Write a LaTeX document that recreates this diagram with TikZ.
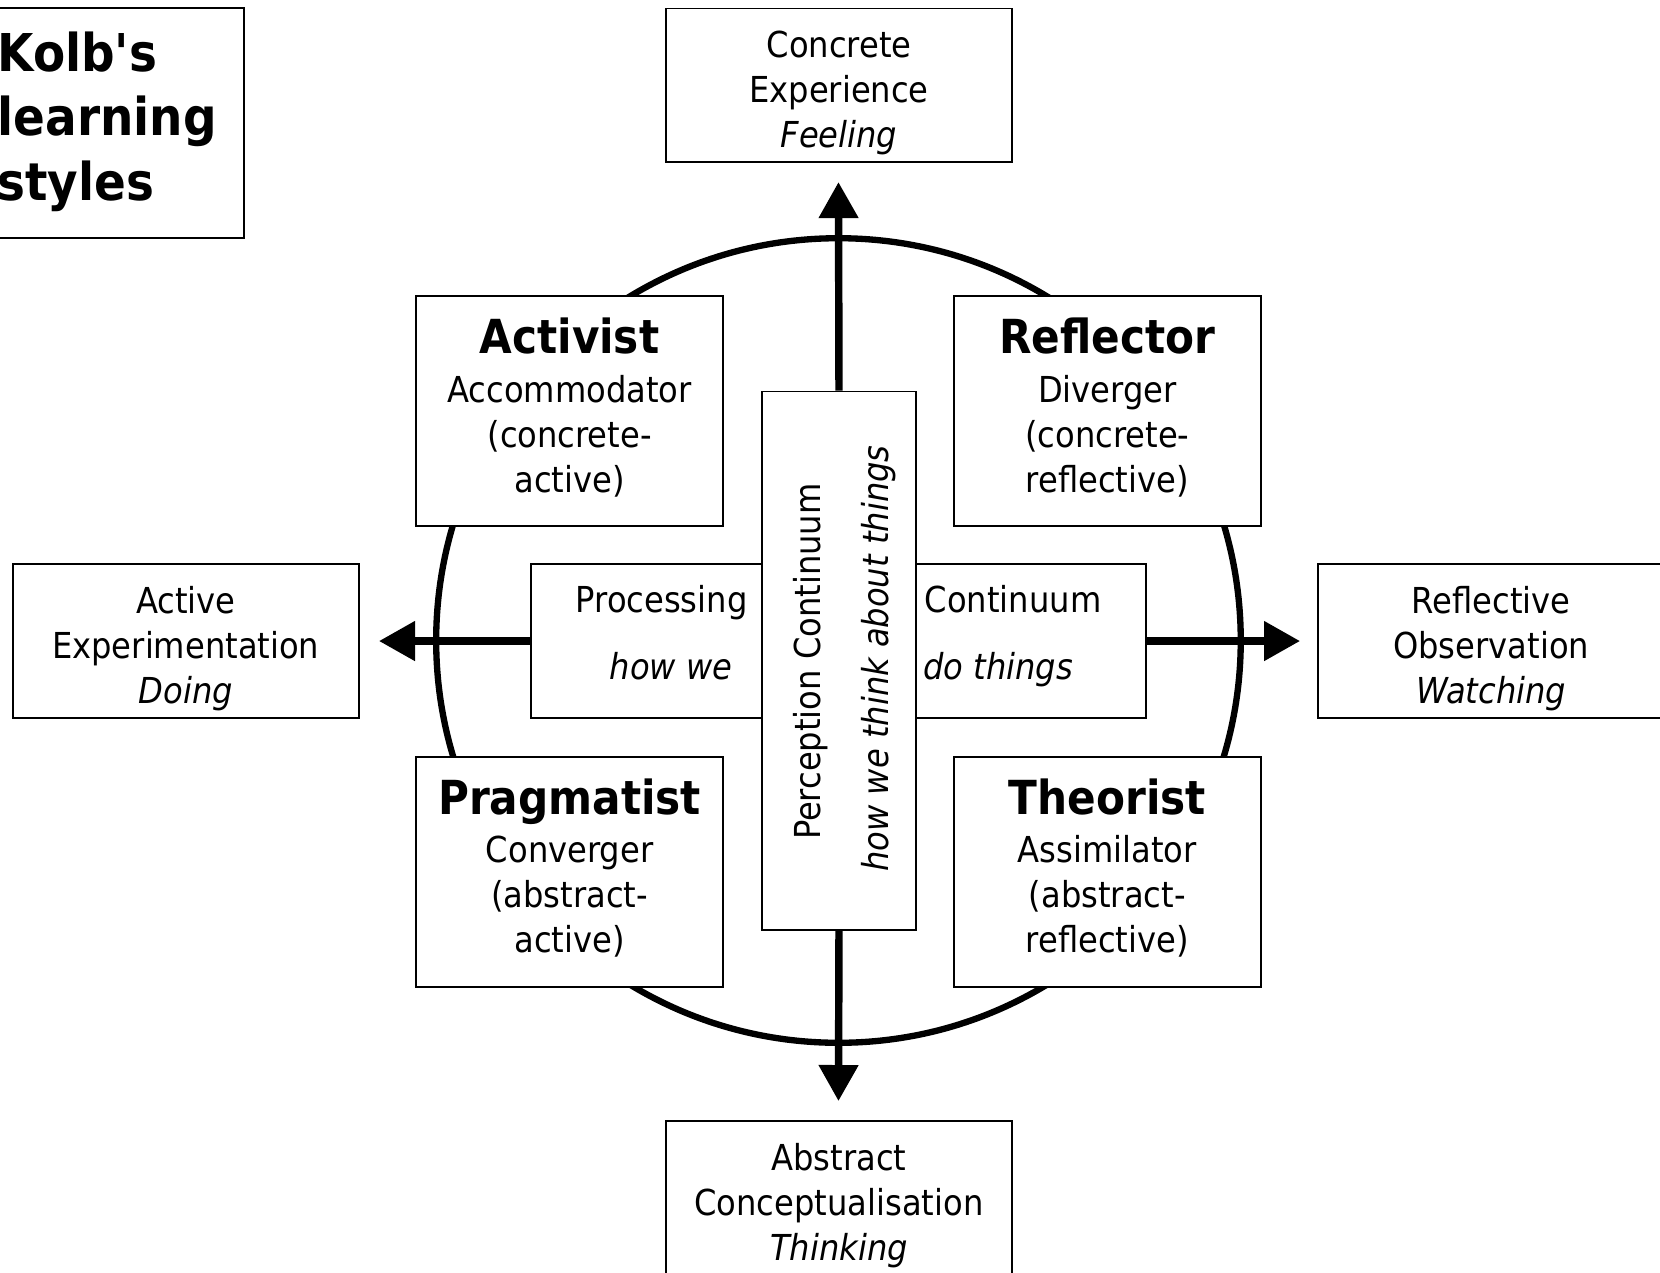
\documentclass[tikz,border=0pt]{standalone}
\usepackage{fontspec}
\setmainfont{DejaVu Sans Condensed}
\usetikzlibrary{arrows.meta}
\newcommand\kolbtxt{\fontsize{9.6}{12.1}\selectfont}
\newcommand\kolbhead{\fontsize{12.6}{14}\selectfont\bfseries}
\newcommand\kolbtitle{\fontsize{14}{17.4}\selectfont\bfseries}
\newcommand\kolbup{\rule{0pt}{11.3pt}}
\newcommand\kolbdown{\rule[-3.3pt]{0pt}{0pt}}
\begin{document}
\begin{tikzpicture}[x=0.01cm,y=-0.01cm,
  box/.style={draw, line width=0.5pt, fill=white, inner sep=0pt, align=center, font=\kolbtxt},
  outerbox/.style={box, minimum width=3.27cm, minimum height=1.45cm},
  quadbox/.style={box, minimum width=2.90cm, minimum height=2.17cm},
  lbl/.style={inner sep=0pt, font=\kolbtxt},
  conn/.style={line width=2pt, -{Triangle[length=0.34cm,width=0.36cm]}},
  ring/.style={line width=1.7pt}]
\useasboundingbox (0,0) rectangle (1568,1202);
% circle
\draw[ring] (792,605) circle[radius=380];
% title
\node[box, minimum width=2.60cm, minimum height=2.17cm] (title) at (100,116.5) {};
\node[inner sep=0pt, anchor=west, align=left, font=\kolbtitle] (titletxt) at (-3,115) {Kolb\textquotesingle s\\learning\\styles};
% outer boxes
\node[outerbox] (ce) at (792.5,80.5) {\kolbup Concrete\\Experience\\\textit{Feeling}};
\node[outerbox] (ae) at (175.5,605.5) {\kolbup Active\\Experimentation\\\textit{Doing}};
\node[outerbox] (ro) at (1408.5,605.5) {\kolbup Reflective\\Observation\\\textit{Watching}};
\node[outerbox] (ac) at (792.5,1131.5) {\kolbup Abstract\\Conceptualisation\\\textit{Thinking}};
% processing continuum box
\node[box, minimum width=5.80cm, minimum height=1.45cm] (pc) at (792,605.5) {};
\node[lbl, anchor=base] (pc1) at (625,579) {Processing};
\node[lbl, anchor=base] (pc2) at (634,642) {\itshape how we};
\node[lbl, anchor=base] (pc3) at (957,579) {Continuum};
\node[lbl, anchor=base] (pc4) at (943,642) {\itshape do things};
% arrows
\coordinate (tN) at (792,172);
\coordinate (tS) at (792,1040);
\coordinate (tW) at (358,605.5);
\coordinate (tE) at (1228,605.5);
\node[box, minimum width=1.45cm, minimum height=5.08cm] (pe) at (792.5,624) {};
\draw[conn] (pe.north) -- (tN);
\draw[conn] (pe.south) -- (tS);
\draw[conn] (pc.west) -- (tW);
\draw[conn] (pc.east) -- (tE);
\node[lbl, rotate=90] (pe1) at (766,625) {Perception Continuum};
\node[lbl, rotate=90] (pe2) at (830,622) {\itshape how we think about things};
% quadrant boxes
\node[quadbox] (act) at (538,388.5) {{\kolbhead Activist}\\[0.95pt]Accommodator\\(concrete-\\active)\kolbdown};
\node[quadbox] (ref) at (1046,388.5) {{\kolbhead Reflector}\\[0.95pt]Diverger\\(concrete-\\reflective)\kolbdown};
\node[quadbox] (pra) at (538,823.5) {{\kolbhead Pragmatist}\\[0.95pt]Converger\\(abstract-\\active)\kolbdown};
\node[quadbox] (the) at (1046,823.5) {{\kolbhead Theorist}\\[0.95pt]Assimilator\\(abstract-\\reflective)\kolbdown};
\end{tikzpicture}
\end{document}
